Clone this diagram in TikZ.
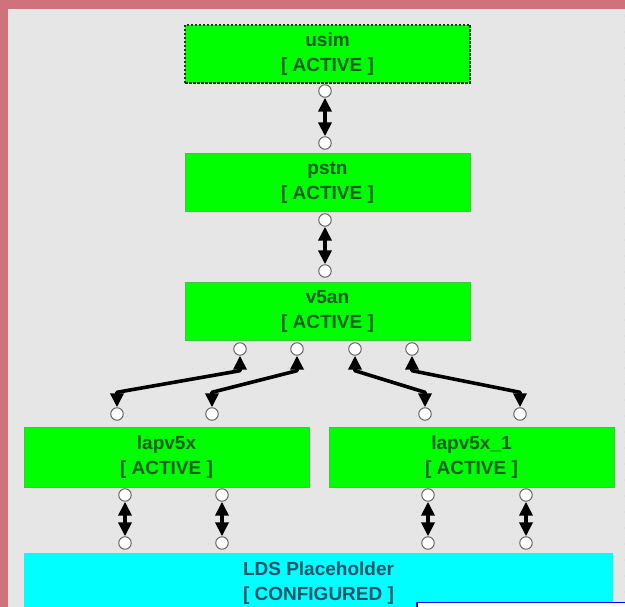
\documentclass[tikz,border=0pt]{standalone}
\usepackage{fontspec}
\setmainfont{Liberation Sans}
\usetikzlibrary{arrows.meta,calc}

\definecolor{frame}{RGB}{208,114,124}
\definecolor{canvas}{RGB}{230,230,230}
\definecolor{griddot}{RGB}{210,210,210}
\definecolor{active}{RGB}{0,255,0}
\definecolor{activeedge}{RGB}{60,200,60}
\definecolor{activetext}{RGB}{10,95,30}
\definecolor{configured}{RGB}{0,255,255}
\definecolor{configtext}{RGB}{20,85,105}
\definecolor{pinring}{RGB}{90,90,90}

\tikzset{
  statebox/.style={rectangle, fill=active, draw=activeedge, line width=0.5pt,
    minimum width=285pt, minimum height=58pt, inner sep=0pt, align=center,
    text=activetext, font=\bfseries\fontsize{19}{25}\selectfont},
  dashbox/.style={statebox, draw=black!75!green, dash pattern=on 2.5pt off 1.5pt, line width=1.4pt},
  ldsbox/.style={statebox, fill=configured, draw=none, text=configtext,
    minimum width=589pt, minimum height=60pt},
  pin/.style={circle, fill=white, draw=pinring, line width=0.9pt,
    minimum size=12.5pt, inner sep=0pt},
  link/.style={line width=3.6pt, line join=round,
    {Triangle[width=13pt,length=14pt]}-{Triangle[width=13pt,length=14pt]}}
}

\begin{document}
\begin{tikzpicture}[x=1pt,y=-1pt]
  % page frame and dotted canvas
  \fill[frame] (0,0) rectangle (625,607);
  \fill[canvas] (8,9) rectangle (625,607);
  \useasboundingbox (0,0) rectangle (625,607);
  \foreach \gx in {16,32,...,624} {
    \foreach \gy in {16,32,...,600} {
      \fill[griddot] (\gx,\gy) circle (0.8pt);
    }
  }

  % component boxes
  \node[dashbox] (usim) at (327.5,54) {usim\\{[ ACTIVE ]}};
  \node[statebox] (pstn) at (327.5,182.5) {pstn\\{[ ACTIVE ]}};
  \node[statebox] (v5an) at (327.5,311) {v5an\\{[ ACTIVE ]}};
  \node[statebox, minimum height=60pt] (lap0) at (166.5,457) {lapv5x\\{[ ACTIVE ]}};
  \node[statebox, minimum height=60pt] (lap1) at (471.5,457) {lapv5x\_1\\{[ ACTIVE ]}};
  \node[ldsbox] (lds) at (318.5,583) {LDS Placeholder\\{[ CONFIGURED ]}};

  % connection pins
  \node[pin] (usimB) at (325,91) {};
  \node[pin] (pstnT) at (325,143) {};
  \node[pin] (pstnB) at (325,220) {};
  \node[pin] (v5anT) at (325,271) {};
  \node[pin] (v5B1) at (240,349) {};
  \node[pin] (v5B2) at (297,349) {};
  \node[pin] (v5B3) at (355,349) {};
  \node[pin] (v5B4) at (412,349) {};
  \node[pin] (l0T1) at (117,414) {};
  \node[pin] (l0T2) at (212,414) {};
  \node[pin] (l1T1) at (425,414) {};
  \node[pin] (l1T2) at (520,414) {};
  \node[pin] (l0B1) at (125,495) {};
  \node[pin] (l0B2) at (222,495) {};
  \node[pin] (l1B1) at (428,495) {};
  \node[pin] (l1B2) at (526,495) {};
  \node[pin] (ldT1) at (125,543) {};
  \node[pin] (ldT2) at (222,543) {};
  \node[pin] (ldT3) at (428,543) {};
  \node[pin] (ldT4) at (526,543) {};

  % straight links
  \draw[link] (usimB) -- (pstnT);
  \draw[link] (pstnB) -- (v5anT);
  \draw[link] (l0B1) -- (ldT1);
  \draw[link] (l0B2) -- (ldT2);
  \draw[link] (l1B1) -- (ldT3);
  \draw[link] (l1B2) -- (ldT4);

  % bent links from v5an to the two lapv5x boxes
  \foreach \a/\b in {v5B1/l0T1, v5B2/l0T2, v5B3/l1T1, v5B4/l1T2} {
    \draw[link] (\a.south) -- ++(0,15) -- ($(\b.north)+(0,-15)$) -- (\b.north);
  }

  % edge of an overlapping panel
  \draw[blue, fill=white, line width=1.5pt] (417,602.5) rectangle (630,615);
\end{tikzpicture}
\end{document}
